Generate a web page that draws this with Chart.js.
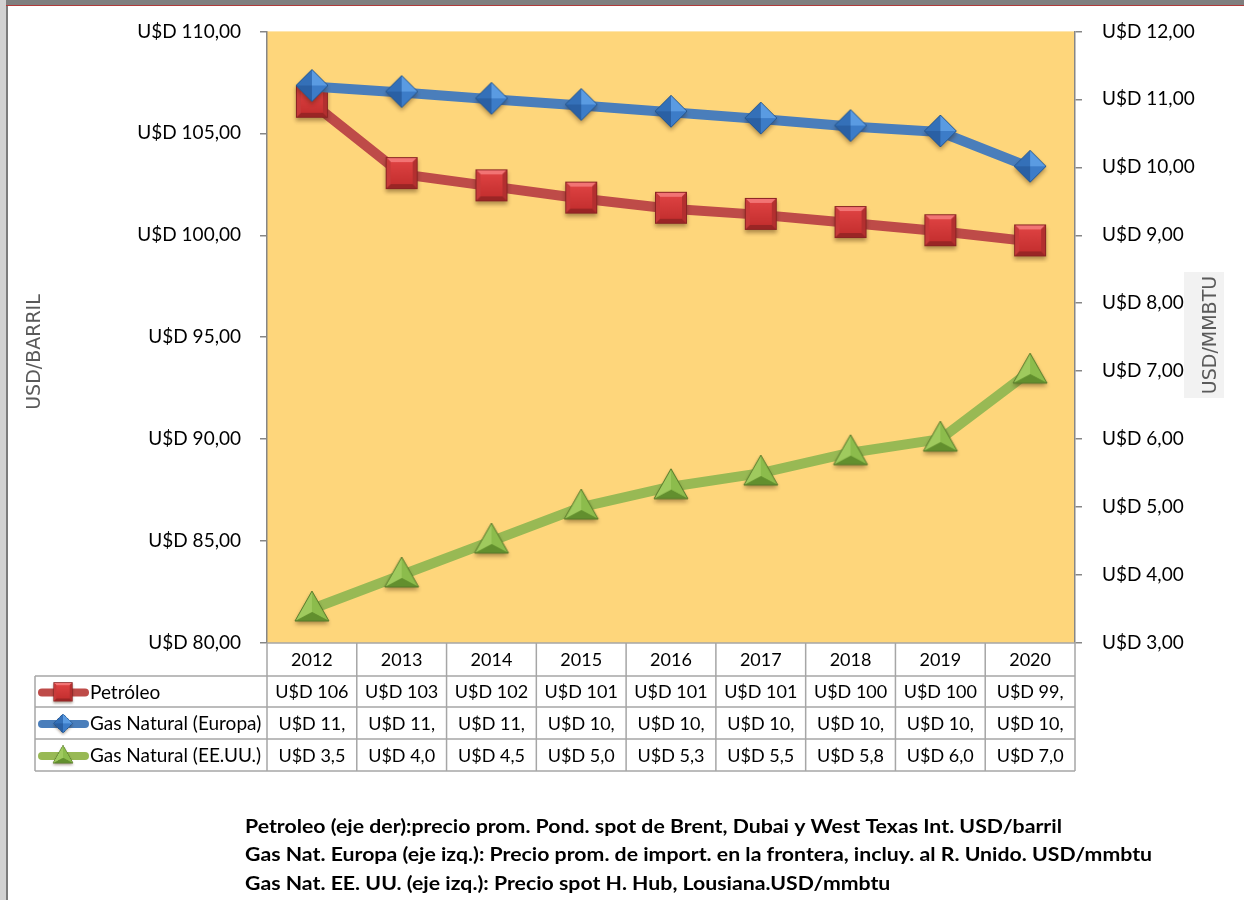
<!DOCTYPE html>
<html>
<head>
<meta charset="utf-8">
<script src="https://cdn.jsdelivr.net/npm/chart.js@4/dist/chart.umd.min.js"></script>
<style>
  body { margin: 0; background: #fff; }
  canvas { display: block; }
</style>
</head>
<body>
<canvas id="chart" width="1244" height="900"></canvas>
<script>
// Data
const years = ['2012', '2013', '2014', '2015', '2016', '2017', '2018', '2019', '2020'];
const petroleo = [106.5, 103.0, 102.4, 101.8, 101.3, 101.0, 100.6, 100.2, 99.7];
const gasEuropa = [11.19, 11.10, 11.00, 10.91, 10.81, 10.71, 10.60, 10.52, 10.00];
const gasEEUU = [3.5, 4.0, 4.5, 5.0, 5.3, 5.5, 5.8, 6.0, 7.0];
const notas = [
    'Petroleo (eje der):precio prom. Pond. spot de Brent, Dubai y West Texas Int. USD/barril',
    'Gas Nat. Europa (eje izq.): Precio prom. de import. en la frontera, incluy. al R. Unido. USD/mmbtu',
    'Gas Nat. EE. UU. (eje izq.): Precio spot H. Hub, Lousiana.USD/mmbtu'
];

const FONT = 'Lato, "Open Sans", sans-serif';
const usd = v => 'U$D ' + v.toFixed(2).replace('.', ',');
// cells in the table are narrow, so the text gets cut
const cell = v => usd(v).slice(0, 7);

// Marker images (bevelled look)
function makeMarker(kind) {
    const c = document.createElement('canvas');
    c.width = 44; c.height = 44;
    const g = c.getContext('2d');
    const cx = 22, cy = 21;
    let pts, faces;
    if (kind === 'square') {
        const h = 16, b = 5;
        g.shadowColor = 'rgba(60,30,0,0.4)'; g.shadowBlur = 4; g.shadowOffsetY = 3;
        g.fillStyle = '#a52b2b';
        g.fillRect(cx - h, cy - h, 2 * h, 2 * h);
        g.shadowColor = 'transparent';
        const grd = g.createLinearGradient(0, cy - h, 0, cy + h);
        grd.addColorStop(0, '#e24545'); grd.addColorStop(1, '#c02c2c');
        g.fillStyle = grd;
        g.fillRect(cx - h + b, cy - h + b, 2 * (h - b), 2 * (h - b));
        const quad = (p, col) => { g.beginPath(); g.moveTo(p[0][0], p[0][1]); p.slice(1).forEach(q => g.lineTo(q[0], q[1])); g.closePath(); g.fillStyle = col; g.fill(); };
        const L = cx - h, R = cx + h, T = cy - h, B = cy + h;
        quad([[L, T], [R, T], [R - b, T + b], [L + b, T + b]], '#f27474');
        quad([[L, B], [R, B], [R - b, B - b], [L + b, B - b]], '#9a2525');
        quad([[L, T], [L + b, T + b], [L + b, B - b], [L, B]], '#c83a3a');
        quad([[R, T], [R - b, T + b], [R - b, B - b], [R, B]], '#b32f2f');
        g.strokeStyle = '#8b2323'; g.lineWidth = 1;
        g.strokeRect(L + 0.5, T + 0.5, 2 * h - 1, 2 * h - 1);
        return c;
    }
    if (kind === 'diamond') {
        const r = 16;
        pts = [[cx, cy - r], [cx + r, cy], [cx, cy + r], [cx - r, cy]];
        faces = ['#5a9be2', '#3c7cc8', '#2a60a4', '#3470b8'];
    } else {
        const w = 17, top = cy - 17, bot = cy + 13, my = cy + 4;
        pts = [[cx, top], [cx + w, bot], [cx - w, bot]];
        faces = ['#8cbc4c', '#628f2e', '#9fca5e'];
        pts.center = [cx, my];
    }
    g.shadowColor = 'rgba(60,30,0,0.4)'; g.shadowBlur = 4; g.shadowOffsetY = 3;
    g.beginPath(); g.moveTo(pts[0][0], pts[0][1]); pts.slice(1).forEach(p => g.lineTo(p[0], p[1])); g.closePath();
    g.fillStyle = faces[1]; g.fill();
    g.shadowColor = 'transparent';
    const ctr = pts.center || [cx, cy];
    pts.forEach((p, i) => {
        const q = pts[(i + 1) % pts.length];
        g.beginPath(); g.moveTo(ctr[0], ctr[1]); g.lineTo(p[0], p[1]); g.lineTo(q[0], q[1]); g.closePath();
        g.fillStyle = faces[i]; g.fill();
    });
    g.beginPath(); g.moveTo(pts[0][0], pts[0][1]); pts.slice(1).forEach(p => g.lineTo(p[0], p[1])); g.closePath();
    g.strokeStyle = kind === 'diamond' ? '#24578f' : '#56782a'; g.lineWidth = 1; g.stroke();
    return c;
}
const mkSquare = makeMarker('square');
const mkDiamond = makeMarker('diamond');
const mkTriangle = makeMarker('triangle');

const series = [
    { label: 'Petróleo', data: petroleo, color: '#be4b48', marker: mkSquare },
    { label: 'Gas Natural (Europa)', data: gasEuropa, color: '#4a7ebb', marker: mkDiamond },
    { label: 'Gas Natural (EE.UU.)', data: gasEEUU, color: '#98b954', marker: mkTriangle }
];

// Background, frame, table, axis titles and notes
const extras = {
    id: 'extras',
    beforeDraw(chart) {
        const ctx = chart.ctx, a = chart.chartArea;
        ctx.save();
        ctx.fillStyle = '#ffffff';
        ctx.fillRect(0, 0, chart.width, chart.height);
        ctx.fillStyle = '#fed67b';
        ctx.fillRect(a.left, a.top, a.right - a.left, a.bottom - a.top);
        ctx.restore();
    },
    afterDraw(chart) {
        const ctx = chart.ctx, a = chart.chartArea, x = chart.scales.x;
        ctx.save();
        // frame
        ctx.fillStyle = '#d2d2d2'; ctx.fillRect(0, 0, 6, chart.height);
        ctx.fillStyle = '#7c7c7c'; ctx.fillRect(6, 0, 2, chart.height);
        ctx.fillStyle = '#7f7f7f'; ctx.fillRect(6, 0, chart.width, 5);
        ctx.fillStyle = '#b03a3a'; ctx.fillRect(6, 5, chart.width, 1);

        // table
        const n = years.length, cw = (a.right - a.left) / n;
        const rows = [a.bottom, 676, 707, 739, 771];
        const tLeft = 35;
        ctx.strokeStyle = '#a6a6a6'; ctx.lineWidth = 1.5;
        ctx.beginPath();
        ctx.moveTo(a.left, rows[0]); ctx.lineTo(a.right, rows[0]);
        for (let r = 1; r < rows.length; r++) { ctx.moveTo(tLeft, rows[r]); ctx.lineTo(a.right, rows[r]); }
        for (let i = 0; i <= n; i++) { ctx.moveTo(a.left + i * cw, rows[0]); ctx.lineTo(a.left + i * cw, rows[4]); }
        ctx.moveTo(tLeft, rows[1]); ctx.lineTo(tLeft, rows[4]);
        ctx.stroke();

        ctx.fillStyle = '#000';
        ctx.font = '18px ' + FONT;
        ctx.textAlign = 'center'; ctx.textBaseline = 'middle';
        years.forEach((y, i) => ctx.fillText(y, x.getPixelForValue(i), (rows[0] + rows[1]) / 2 + 1));
        series.forEach((s, r) => {
            const cy = (rows[r + 1] + rows[r + 2]) / 2 + 1;
            ctx.font = '18px ' + FONT;
            ctx.textAlign = 'center';
            s.data.forEach((v, i) => ctx.fillText(cell(v), x.getPixelForValue(i), cy));
            // legend key
            ctx.strokeStyle = s.color; ctx.lineWidth = 8; ctx.lineCap = 'round';
            ctx.beginPath(); ctx.moveTo(42, cy); ctx.lineTo(85, cy); ctx.stroke();
            const m = s.marker, sc = 0.6;
            ctx.drawImage(m, 63 - m.width * sc / 2, cy - m.height * sc / 2, m.width * sc, m.height * sc);
            ctx.textAlign = 'left';
            ctx.font = '19px ' + FONT;
            ctx.fillText(s.label, 90, cy);
        });

        // axis titles
        ctx.font = '19px "DejaVu Sans", sans-serif';
        ctx.fillStyle = '#5a5a5a';
        ctx.textAlign = 'center'; ctx.textBaseline = 'middle';
        ctx.save(); ctx.translate(35, 352); ctx.rotate(-Math.PI / 2);
        ctx.fillText('USD/BARRIL', 0, 0); ctx.restore();
        ctx.fillStyle = 'rgba(242,242,242,0.97)';
        ctx.fillRect(1184, 272, 40, 126);
        ctx.fillStyle = '#5a5a5a';
        ctx.save(); ctx.translate(1211, 335); ctx.rotate(-Math.PI / 2);
        ctx.fillText('USD/MMBTU', 0, 0); ctx.restore();

        // notes (text in the original is wide and condensed)
        ctx.font = 'bold 18px ' + FONT;
        ctx.fillStyle = '#000';
        ctx.textAlign = 'left';
        const sx = 817 / ctx.measureText(notas[0]).width;
        notas.forEach((t, i) => {
            ctx.save();
            ctx.translate(245, 827 + i * 28.5);
            ctx.scale(sx, 1);
            ctx.fillText(t, 0, 0);
            ctx.restore();
        });
        ctx.restore();
    }
};

const ctx = document.getElementById('chart').getContext('2d');
new Chart(ctx, {
    type: 'line',
    data: {
        labels: years,
        datasets: [
            { label: series[0].label, data: petroleo, yAxisID: 'y', order: 1,
              borderColor: series[0].color, borderWidth: 10, pointStyle: mkSquare, pointRadius: 16 },
            { label: series[1].label, data: gasEuropa, yAxisID: 'y2', order: 0,
              borderColor: series[1].color, borderWidth: 10, pointStyle: mkDiamond, pointRadius: 16 },
            { label: series[2].label, data: gasEEUU, yAxisID: 'y2', order: 2,
              borderColor: series[2].color, borderWidth: 10, pointStyle: mkTriangle, pointRadius: 16 }
        ]
    },
    options: {
        responsive: false,
        animation: false,
        events: [],
        layout: { padding: { top: 30, bottom: 257, left: 0, right: 0 } },
        plugins: { legend: { display: false }, tooltip: { enabled: false } },
        elements: { line: { tension: 0, borderJoinStyle: 'round' } },
        scales: {
            x: { display: false, offset: true },
            y: {
                position: 'left', min: 80, max: 110,
                afterFit: s => { s.width = 267; },
                ticks: { stepSize: 5, padding: 19, color: '#000', font: { family: FONT, size: 19 }, callback: v => usd(v) },
                grid: { drawOnChartArea: false, tickLength: 7, color: '#868686', lineWidth: 1.5 },
                border: { color: '#868686', width: 1.5 }
            },
            y2: {
                position: 'right', min: 3, max: 12,
                afterFit: s => { s.width = 169; },
                ticks: { stepSize: 1, padding: 20, color: '#000', font: { family: FONT, size: 19 }, callback: v => usd(v) },
                grid: { drawOnChartArea: false, tickLength: 7, color: '#868686', lineWidth: 1.5 },
                border: { color: '#868686', width: 1.5 }
            }
        }
    },
    plugins: [extras]
});
</script>
</body>
</html>
